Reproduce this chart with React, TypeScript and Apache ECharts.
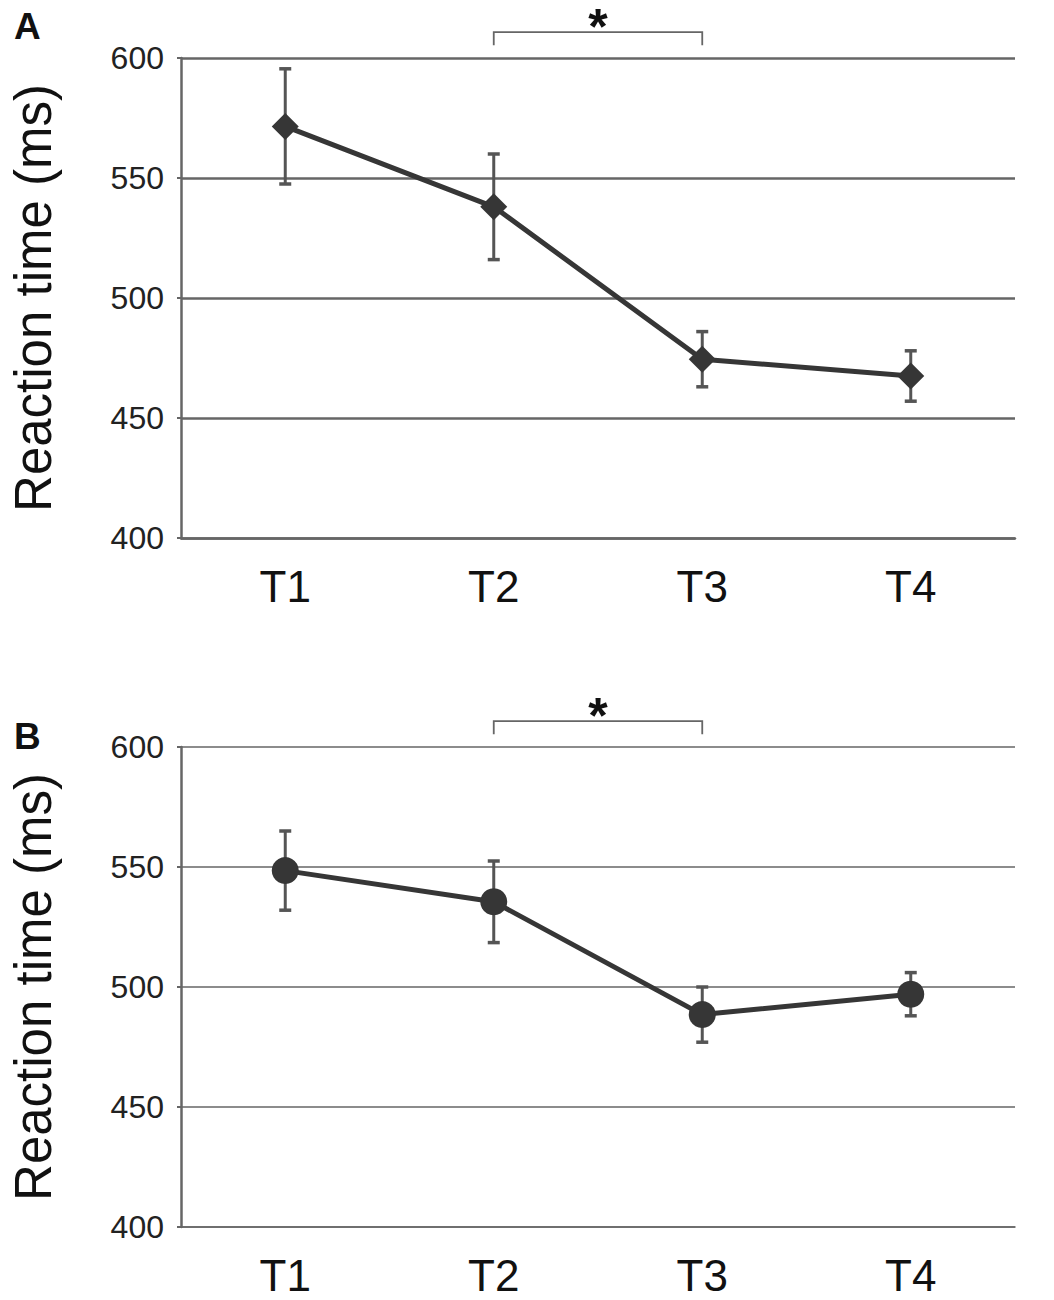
import React, { useEffect, useRef } from "react";
import * as echarts from "echarts";

const categories = ["T1", "T2", "T3", "T4"];
const meanA = [571.5, 538, 474.5, 467.5];
const errA = [24, 22, 11.5, 10.5];
const meanB = [548.5, 535.5, 488.5, 497];
const errB = [16.5, 17, 11.5, 9];
const yMin = 400;
const yMax = 600;
const yStep = 50;
const sigPairsA = [[1, 2]];
const sigPairsB = [[1, 2]];
const yTitle = "Reaction time (ms)";
const panelLetters = ["A", "B"];

const DARK = "#363636";
const ERR = "#555555";
const FONT = "'Liberation Sans', Arial, sans-serif";

function errorData(mean: number[], err: number[]) {
  return mean.map((m, i) => [i, m - err[i], m + err[i]]);
}

function errorRender(params: any, api: any) {
  const x = api.value(0);
  const lo = api.coord([x, api.value(1)]);
  const hi = api.coord([x, api.value(2)]);
  const cap = 6;
  const style = { stroke: ERR, lineWidth: 3 };
  return {
    type: "group",
    children: [
      { type: "line", shape: { x1: lo[0], y1: lo[1], x2: hi[0], y2: hi[1] }, style },
      { type: "line", shape: { x1: lo[0] - cap, y1: lo[1], x2: lo[0] + cap, y2: lo[1] }, style: { stroke: ERR, lineWidth: 3.5 } },
      { type: "line", shape: { x1: hi[0] - cap, y1: hi[1], x2: hi[0] + cap, y2: hi[1] }, style: { stroke: ERR, lineWidth: 3.5 } },
    ],
  };
}

function bracketRender(params: any, api: any) {
  const a = api.value(0);
  const b = api.value(1);
  const p1 = api.coord([a, 605.3]);
  const p2 = api.coord([a, 610.8]);
  const p3 = api.coord([b, 610.8]);
  const p4 = api.coord([b, 605.3]);
  const starY = api.coord([a, 616])[1];
  const starX = (p2[0] + p3[0]) / 2;
  return {
    type: "group",
    children: [
      {
        type: "polyline",
        shape: { points: [p1, p2, p3, p4] },
        style: { stroke: "#666", lineWidth: 1.8, fill: "none" },
      },
      {
        type: "text",
        x: starX,
        y: starY + 7,
        style: {
          text: "*",
          fontSize: 50,
          fontWeight: "bold",
          fontFamily: FONT,
          fill: "#111",
          align: "center",
          verticalAlign: "middle",
        },
      },
    ],
  };
}

export default function App() {
  const ref = useRef<HTMLDivElement>(null);
  useEffect(() => {
    document.body.style.margin = "0";
    if (!ref.current) return;
    const chart = echarts.init(ref.current, undefined, { renderer: "svg" });
    const gridW = [2.5, 1.6];
    const xAxes = [0, 1].map((g) => ({
      type: "category",
      gridIndex: g,
      data: categories,
      boundaryGap: true,
      axisLine: { show: true, lineStyle: { color: "#666", width: gridW[g] } },
      axisTick: { show: false },
      axisLabel: {
        fontSize: 44,
        margin: 26,
        color: "#111",
        fontFamily: FONT,
      },
    }));
    const yAxes = [0, 1].map((g) => ({
      type: "value",
      gridIndex: g,
      min: yMin,
      max: yMax,
      interval: yStep,
      name: yTitle,
      nameLocation: "middle",
      nameGap: 122,
      nameTextStyle: {
        fontSize: 51,
        color: "#111",
        fontFamily: FONT,
      },
      axisLine: { show: true, lineStyle: { color: "#666", width: 2.5 } },
      axisTick: { show: true, length: 4, lineStyle: { color: "#666", width: 2 } },
      splitLine: { show: true, lineStyle: { color: "#666", width: gridW[g] } },
      axisLabel: {
        fontSize: 32,
        margin: 17,
        color: "#222",
        fontFamily: FONT,
      },
    }));
    const option: any = {
      animation: false,
      backgroundColor: "#fff",
      grid: [
        { left: 180, top: 58, width: 835, height: 480 },
        { left: 180, top: 747, width: 835, height: 480 },
      ],
      xAxis: xAxes,
      yAxis: yAxes,
      graphic: panelLetters.map((t, i) => ({
        type: "text",
        left: 14,
        top: i === 0 ? 8 : 718,
        style: {
          text: t,
          fontSize: 37,
          fontWeight: "bold",
          fontFamily: FONT,
          fill: "#111",
        },
      })),
      series: [
        {
          type: "custom",
          xAxisIndex: 0,
          yAxisIndex: 0,
          data: errorData(meanA, errA),
          renderItem: errorRender,
          z: 2,
          silent: true,
        },
        {
          type: "line",
          xAxisIndex: 0,
          yAxisIndex: 0,
          data: meanA,
          symbol: "diamond",
          symbolSize: [27, 27],
          lineStyle: { color: DARK, width: 5 },
          itemStyle: { color: DARK },
          z: 3,
        },
        {
          type: "custom",
          xAxisIndex: 0,
          yAxisIndex: 0,
          data: sigPairsA,
          renderItem: bracketRender,
          clip: false,
          silent: true,
        },
        {
          type: "custom",
          xAxisIndex: 1,
          yAxisIndex: 1,
          data: errorData(meanB, errB),
          renderItem: errorRender,
          z: 2,
          silent: true,
        },
        {
          type: "line",
          xAxisIndex: 1,
          yAxisIndex: 1,
          data: meanB,
          symbol: "circle",
          symbolSize: 27,
          lineStyle: { color: DARK, width: 5 },
          itemStyle: { color: DARK },
          z: 3,
        },
        {
          type: "custom",
          xAxisIndex: 1,
          yAxisIndex: 1,
          data: sigPairsB,
          renderItem: bracketRender,
          clip: false,
          silent: true,
        },
      ],
    };
    chart.setOption(option);
    return () => chart.dispose();
  }, []);
  return <div ref={ref} style={{ width: 1054, height: 1300 }} />;
}
